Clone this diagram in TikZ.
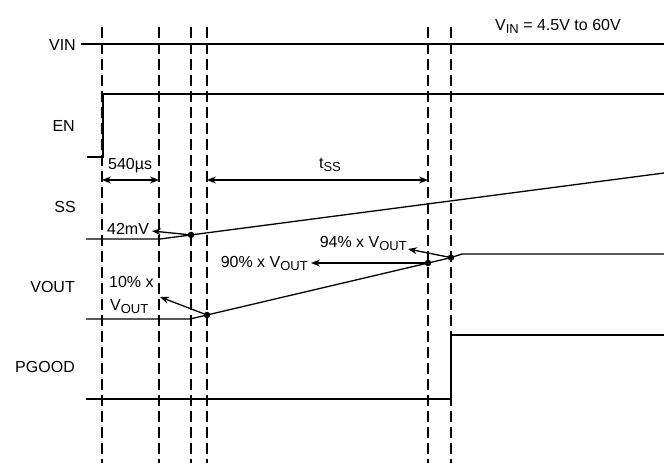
\documentclass[tikz,border=0pt]{standalone}
\usepackage{fontspec}
\setmainfont{Liberation Sans}
\usetikzlibrary{arrows.meta}
\newcommand{\lsub}[1]{\raisebox{-3pt}{\fontsize{13}{14}\selectfont #1}}
\begin{document}
\begin{tikzpicture}[x=1pt,y=-1pt,
  sig/.style={line width=1.3pt},
  guide/.style={line width=2.3pt, dash pattern=on 11pt off 5pt},
  lbl/.style={font=\fontsize{16}{18}\selectfont, inner sep=0pt},
  dimarr/.style={line width=1.3pt, {Stealth[length=9pt,width=7pt]}-{Stealth[length=9pt,width=7pt]}},
  ptr/.style={line width=1.3pt, -{Stealth[length=9pt,width=7pt]}},
  dotc/.style={circle, fill, inner sep=0pt, minimum size=6.5pt}]
\useasboundingbox (0,0) rectangle (664,463);
% guide lines
\foreach \n/\x in {g1/102,g2/159,g3/191,g4/207,g5/428,g6/451}{
  \coordinate (\n t) at (\x,27);
  \coordinate (\n b) at (\x,463);
  \draw[guide] (\n t) -- (\n b);
}
% signal labels
\node[lbl, anchor=east] (lvin) at (76,45) {VIN};
\node[lbl, anchor=east] (len) at (75,126) {EN};
\node[lbl, anchor=east] (lss) at (76,207) {SS};
\node[lbl, anchor=east] (lvout) at (75,287) {VOUT};
\node[lbl, anchor=east] (lpg) at (75,367) {PGOOD};
\node[lbl, anchor=base west] (title) at (495,30.5) {V\lsub{IN} = 4.5V to 60V};
% VIN
\coordinate (vin0) at (81,44); \coordinate (vin1) at (664,44);
\draw[sig] (vin0) -- (vin1);
% EN
\coordinate (en0) at (87,157); \coordinate (en1) at (103,157);
\coordinate (en2) at (103,94); \coordinate (en3) at (664,94);
\draw[sig] (en0) -- (en1) -- (en2) -- (en3);
% SS
\coordinate (ss0) at (86,239); \coordinate (ss1) at (160,239); \coordinate (ss2) at (664,173);
\draw[sig] (ss0) -- (ss1) -- (ss2);
% VOUT
\coordinate (vo0) at (86,319); \coordinate (vo1) at (190,319);
\coordinate (vo2) at (451,257.6); \coordinate (vo3) at (462,254); \coordinate (vo4) at (664,254);
\draw[sig] (vo0) -- (vo1) -- (vo2) -- (vo3) -- (vo4);
% PGOOD
\coordinate (pg0) at (86,399); \coordinate (pg1) at (451,399);
\coordinate (pg2) at (451,335); \coordinate (pg3) at (664,335);
\draw[sig] (pg0) -- (pg1) -- (pg2) -- (pg3);
% dots
\node[dotc] (d1) at (191,234.9) {};
\node[dotc] (d2) at (207,315) {};
\node[dotc] (d3) at (428,263) {};
\node[dotc] (d4) at (451,257.6) {};
% dimension arrows
\coordinate (a1l) at (102,180); \coordinate (a1r) at (159,180);
\draw[dimarr] (a1l) -- (a1r);
\node[lbl, anchor=base west] (t540) at (108,169) {540µs};
\coordinate (a2l) at (207,180); \coordinate (a2r) at (428,180);
\draw[dimarr] (a2l) -- (a2r);
\node[lbl, anchor=base] (tss) at (330,168) {t\lsub{SS}};
% pointer labels
\node[lbl, anchor=base west] (l42) at (107,234) {42mV};
\coordinate (p42) at (152,231);
\draw[ptr] (d1.center) -- (p42);
\node[lbl, anchor=base west] (l10a) at (109,287) {10\% x};
\node[lbl, anchor=base west] (l10b) at (110,310.5) {V\lsub{OUT}};
\coordinate (p10) at (160,297);
\draw[ptr] (d2.center) -- (p10);
\node[lbl, anchor=base east] (l90) at (308,267) {90\% x V\lsub{OUT}};
\coordinate (p90) at (311,263);
\draw[ptr] (d3.center) -- (p90);
\node[lbl, anchor=base east] (l94) at (407,247.5) {94\% x V\lsub{OUT}};
\coordinate (p94) at (408,249);
\draw[ptr] (d4.center) -- (p94);
\end{tikzpicture}
\end{document}
